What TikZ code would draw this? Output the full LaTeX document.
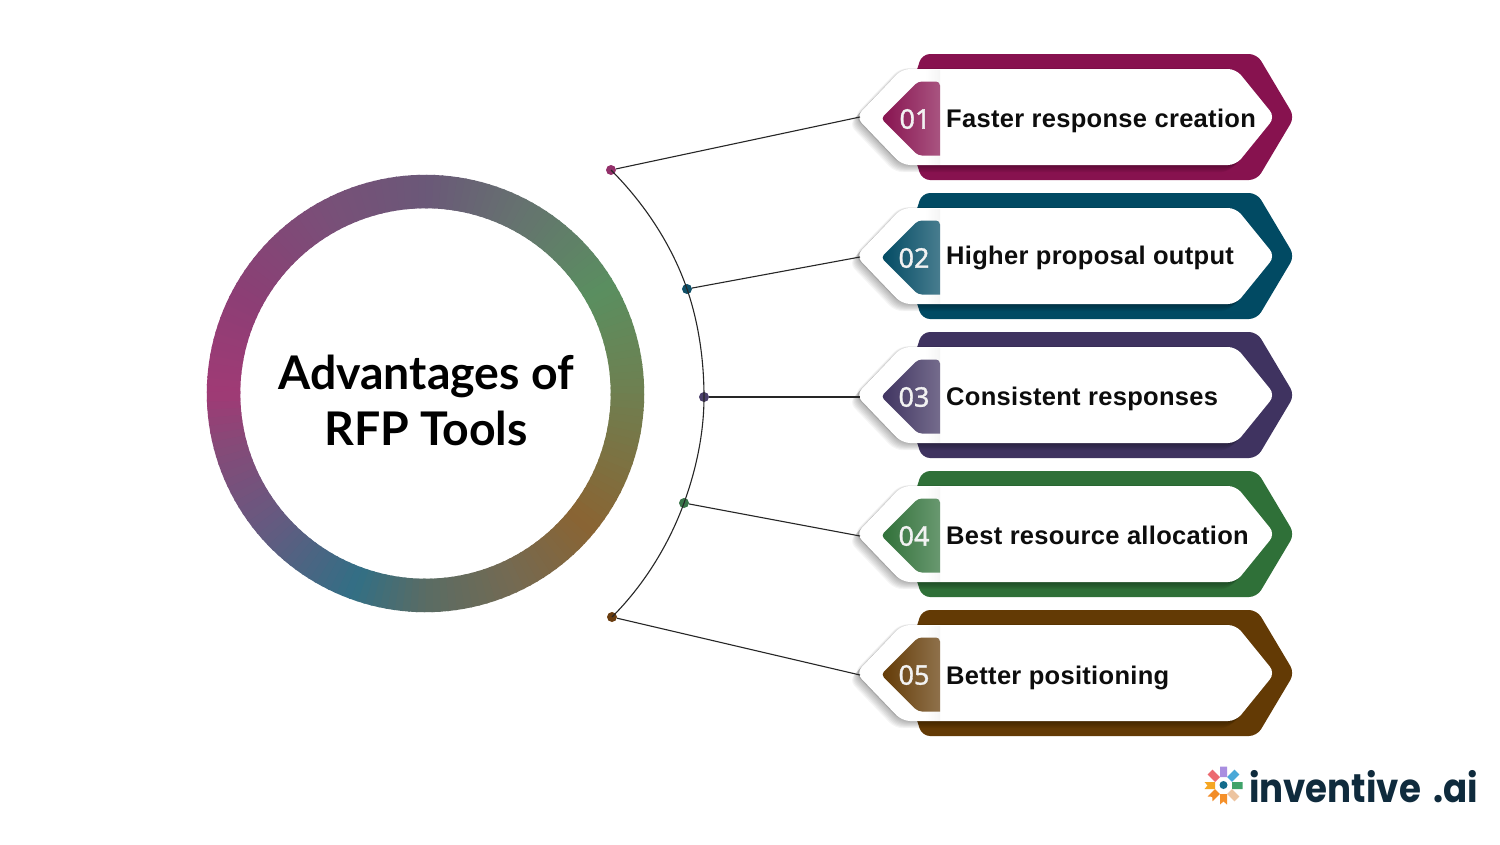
\documentclass[tikz,border=0pt]{standalone}
\usepackage{fontspec}
\setmainfont{Liberation Sans}
\newfontfamily\labfont{Liberation Sans}[LetterSpace=1.2]
\newfontfamily\numfont{Noto Sans}[FakeBold=1.2]
\newfontfamily\titlefont{Lato}
\newfontfamily\logofont{Poppins}[FakeStretch=.89]
\definecolor{cA}{HTML}{87124F}\definecolor{cB}{HTML}{014A63}\definecolor{cC}{HTML}{3F3360}\definecolor{cD}{HTML}{2F7038}\definecolor{cE}{HTML}{633A05}
\definecolor{dA}{HTML}{93306A}\definecolor{dB}{HTML}{0F5068}\definecolor{dC}{HTML}{4B3F6B}\definecolor{dD}{HTML}{39754A}\definecolor{dE}{HTML}{6A3D10}
\definecolor{r0}{HTML}{A03A75}\definecolor{r1}{HTML}{8B3F75}\definecolor{r2}{HTML}{7A4F78}\definecolor{r3}{HTML}{6A5878}\definecolor{r4}{HTML}{667070}\definecolor{r5}{HTML}{5A8F60}\definecolor{r6}{HTML}{6F7F50}\definecolor{r7}{HTML}{8A6433}\definecolor{r8}{HTML}{746A52}\definecolor{r9}{HTML}{5A6C64}\definecolor{r10}{HTML}{326F85}\definecolor{r11}{HTML}{655A80}\definecolor{r12}{HTML}{854A78}
\definecolor{logoink}{HTML}{0F2B3D}
\tikzset{
  dotnode/.style={circle,inner sep=0pt,minimum size=10pt,fill=#1},
  linkline/.style={draw=black!85,line width=1.1pt},
  arcline/.style={linkline,looseness=.85},
  rowlabel/.style={font=\labfont\bfseries\fontsize{25.5}{30}\selectfont,anchor=base west,inner sep=0pt,text=black!95},
  numlabel/.style={font=\numfont\fontsize{27}{30}\selectfont,inner sep=0pt,text=white!95!black},
  titlenode/.style={font=\titlefont\bfseries\fontsize{46.4}{56}\selectfont,align=center,inner sep=0pt,text=black},
  logotext/.style={font=\logofont\bfseries\fontsize{40}{44}\selectfont,anchor=base west,inner sep=0pt,text=logoink},
  bandshape/.style={rounded corners=8pt,fill=#1},
}
\newcommand{\whitepath}{(856,0) -- (902,-48) -- (1236,-48) -- (1275,0) -- (1236,48) -- (902,48) -- cycle}
\newcommand{\rowshape}[2]{%
 \begin{scope}[shift={(0,#1)}]
  \fill[bandshape=#2] (902,0) -- (922,-63) -- (1257,-63) -- (1294.5,0) -- (1257,63) -- (922,63) -- cycle;
  \foreach \k in {1,...,8}{\fill[black,opacity=.04,rounded corners=8pt,shift={(-.9*\k,.9*\k)}] \whitepath;}
  \foreach \k in {1,...,4}{\fill[black,opacity=.035,rounded corners=8pt,shift={(-.6*\k,-.2*\k)}] \whitepath;}
  \fill[white,rounded corners=8pt] \whitepath;
  \shade[left color=white,right color=black!4] (925,-47) rectangle (940,47);
  \path[rounded corners=4pt,left color=#2,right color=#2!72!white] (881,1.5) -- (918,-35.5) -- (940,-35.5) [sharp corners] -- (940,38.5) [rounded corners=4pt] -- (918,38.5) -- cycle;
 \end{scope}}
\begin{document}
\begin{tikzpicture}[x=1pt,y=-1pt]
\useasboundingbox (0,0) rectangle (1500,844);
\fill[white] (0,0) rectangle (1500,844);
% ring
\foreach \aS/\aE/\cS/\cE in {180/150/r0/r1,150/120/r1/r2,120/90/r2/r3,90/65/r3/r4,65/30/r4/r5,30/0/r5/r6,0/-39/r6/r7,-39/-65/r7/r8,-65/-90/r8/r9,-90/-110/r9/r10,-110/-140/r10/r11,-140/-165/r11/r12,-165/-180/r12/r0}{
  \pgfmathtruncatemacro{\nseg}{abs(\aE-\aS)/2}
  \foreach \i in {1,...,\nseg}{
    \pgfmathsetmacro{\pp}{100-100*(\i-.5)/\nseg}
    \pgfmathsetmacro{\aA}{\aS+(\aE-\aS)*(\i-1)/\nseg}
    \pgfmathsetmacro{\aB}{\aS+(\aE-\aS)*(\i)/\nseg+(\aE-\aS)/\nseg*.3}
    \draw[line width=33.5pt,color=\cS!\pp!\cE] ({425.5+202*cos(\aA)},{393.5-202*sin(\aA)}) -- ({425.5+202*cos(\aB)},{393.5-202*sin(\aB)});
  }
}
\node[titlenode] (title) at (426,400.5) {Advantages of\\RFP Tools};
% rows
\rowshape{117}{cA}
\rowshape{256}{cB}
\rowshape{395}{cC}
\rowshape{534}{cD}
\rowshape{673}{cE}
\node[numlabel] (numA) at (915,119) {01};
\node[numlabel] (numB) at (914,258) {02};
\node[numlabel] (numC) at (914,397) {03};
\node[numlabel] (numD) at (914,536) {04};
\node[numlabel] (numE) at (914,675) {05};
\node[rowlabel] (labA) at (946,127.5) {Faster response creation};
\node[rowlabel] (labB) at (946,264.5) {Higher proposal output};
\node[rowlabel] (labC) at (946,405.5) {Consistent responses};
\node[rowlabel] (labD) at (946,544.5) {Best resource allocation};
\node[rowlabel] (labE) at (946,684.5) {Better positioning};
% tips
\coordinate (tipA) at (860,117);
\coordinate (tipB) at (860,257);
\coordinate (tipC) at (860,397);
\coordinate (tipD) at (860,536);
\coordinate (tipE) at (860,675);
% dots
\node[dotnode=dA] (dotA) at (611,170) {};
\node[dotnode=dB] (dotB) at (687,289) {};
\node[dotnode=dC] (dotC) at (704,397) {};
\node[dotnode=dD] (dotD) at (684,503) {};
\node[dotnode=dE] (dotE) at (612,617) {};
\draw[linkline] (dotA) -- (tipA);
\draw[linkline] (dotB) -- (tipB);
\draw[linkline] (dotC) -- (tipC);
\draw[linkline] (dotD) -- (tipD);
\draw[linkline] (dotE) -- (tipE);
\draw[arcline] (dotA.center) to[out=-45,in=109] (dotB.center) to[out=-71,in=90] (dotC.center);
\draw[arcline] (dotC.center) to[out=-90,in=70] (dotD.center) to[out=-110,in=45] (dotE.center);
% logo
\begin{scope}[shift={(1223.5,785.5)}]
 \foreach \ang/\col/\nt in {90/A98EE0/0,45/4AA8D8/0,0/3FA36A/0,-45/EDC4A0/0,-90/F5902A/3,-135/F28C28/3,180/F5A623/3,135/EC6A70/0}{
   \definecolor{tmpc}{HTML}{\col}
   \begin{scope}[rotate=\ang]
    \fill[tmpc] (8.5,-3.5) -- (19,-3.5) -- ({19-\nt},0) -- (19,3.5) -- (8.5,3.5) -- cycle;
   \end{scope}
 }
 \fill[color={rgb,255:red,20;green,108;blue,140}] (0,-.5) circle (4pt);
\end{scope}
\node[logotext] (logo) at (1249,802) {\spaceskip=12pt\relax inventive .ai};
\end{tikzpicture}
\end{document}
